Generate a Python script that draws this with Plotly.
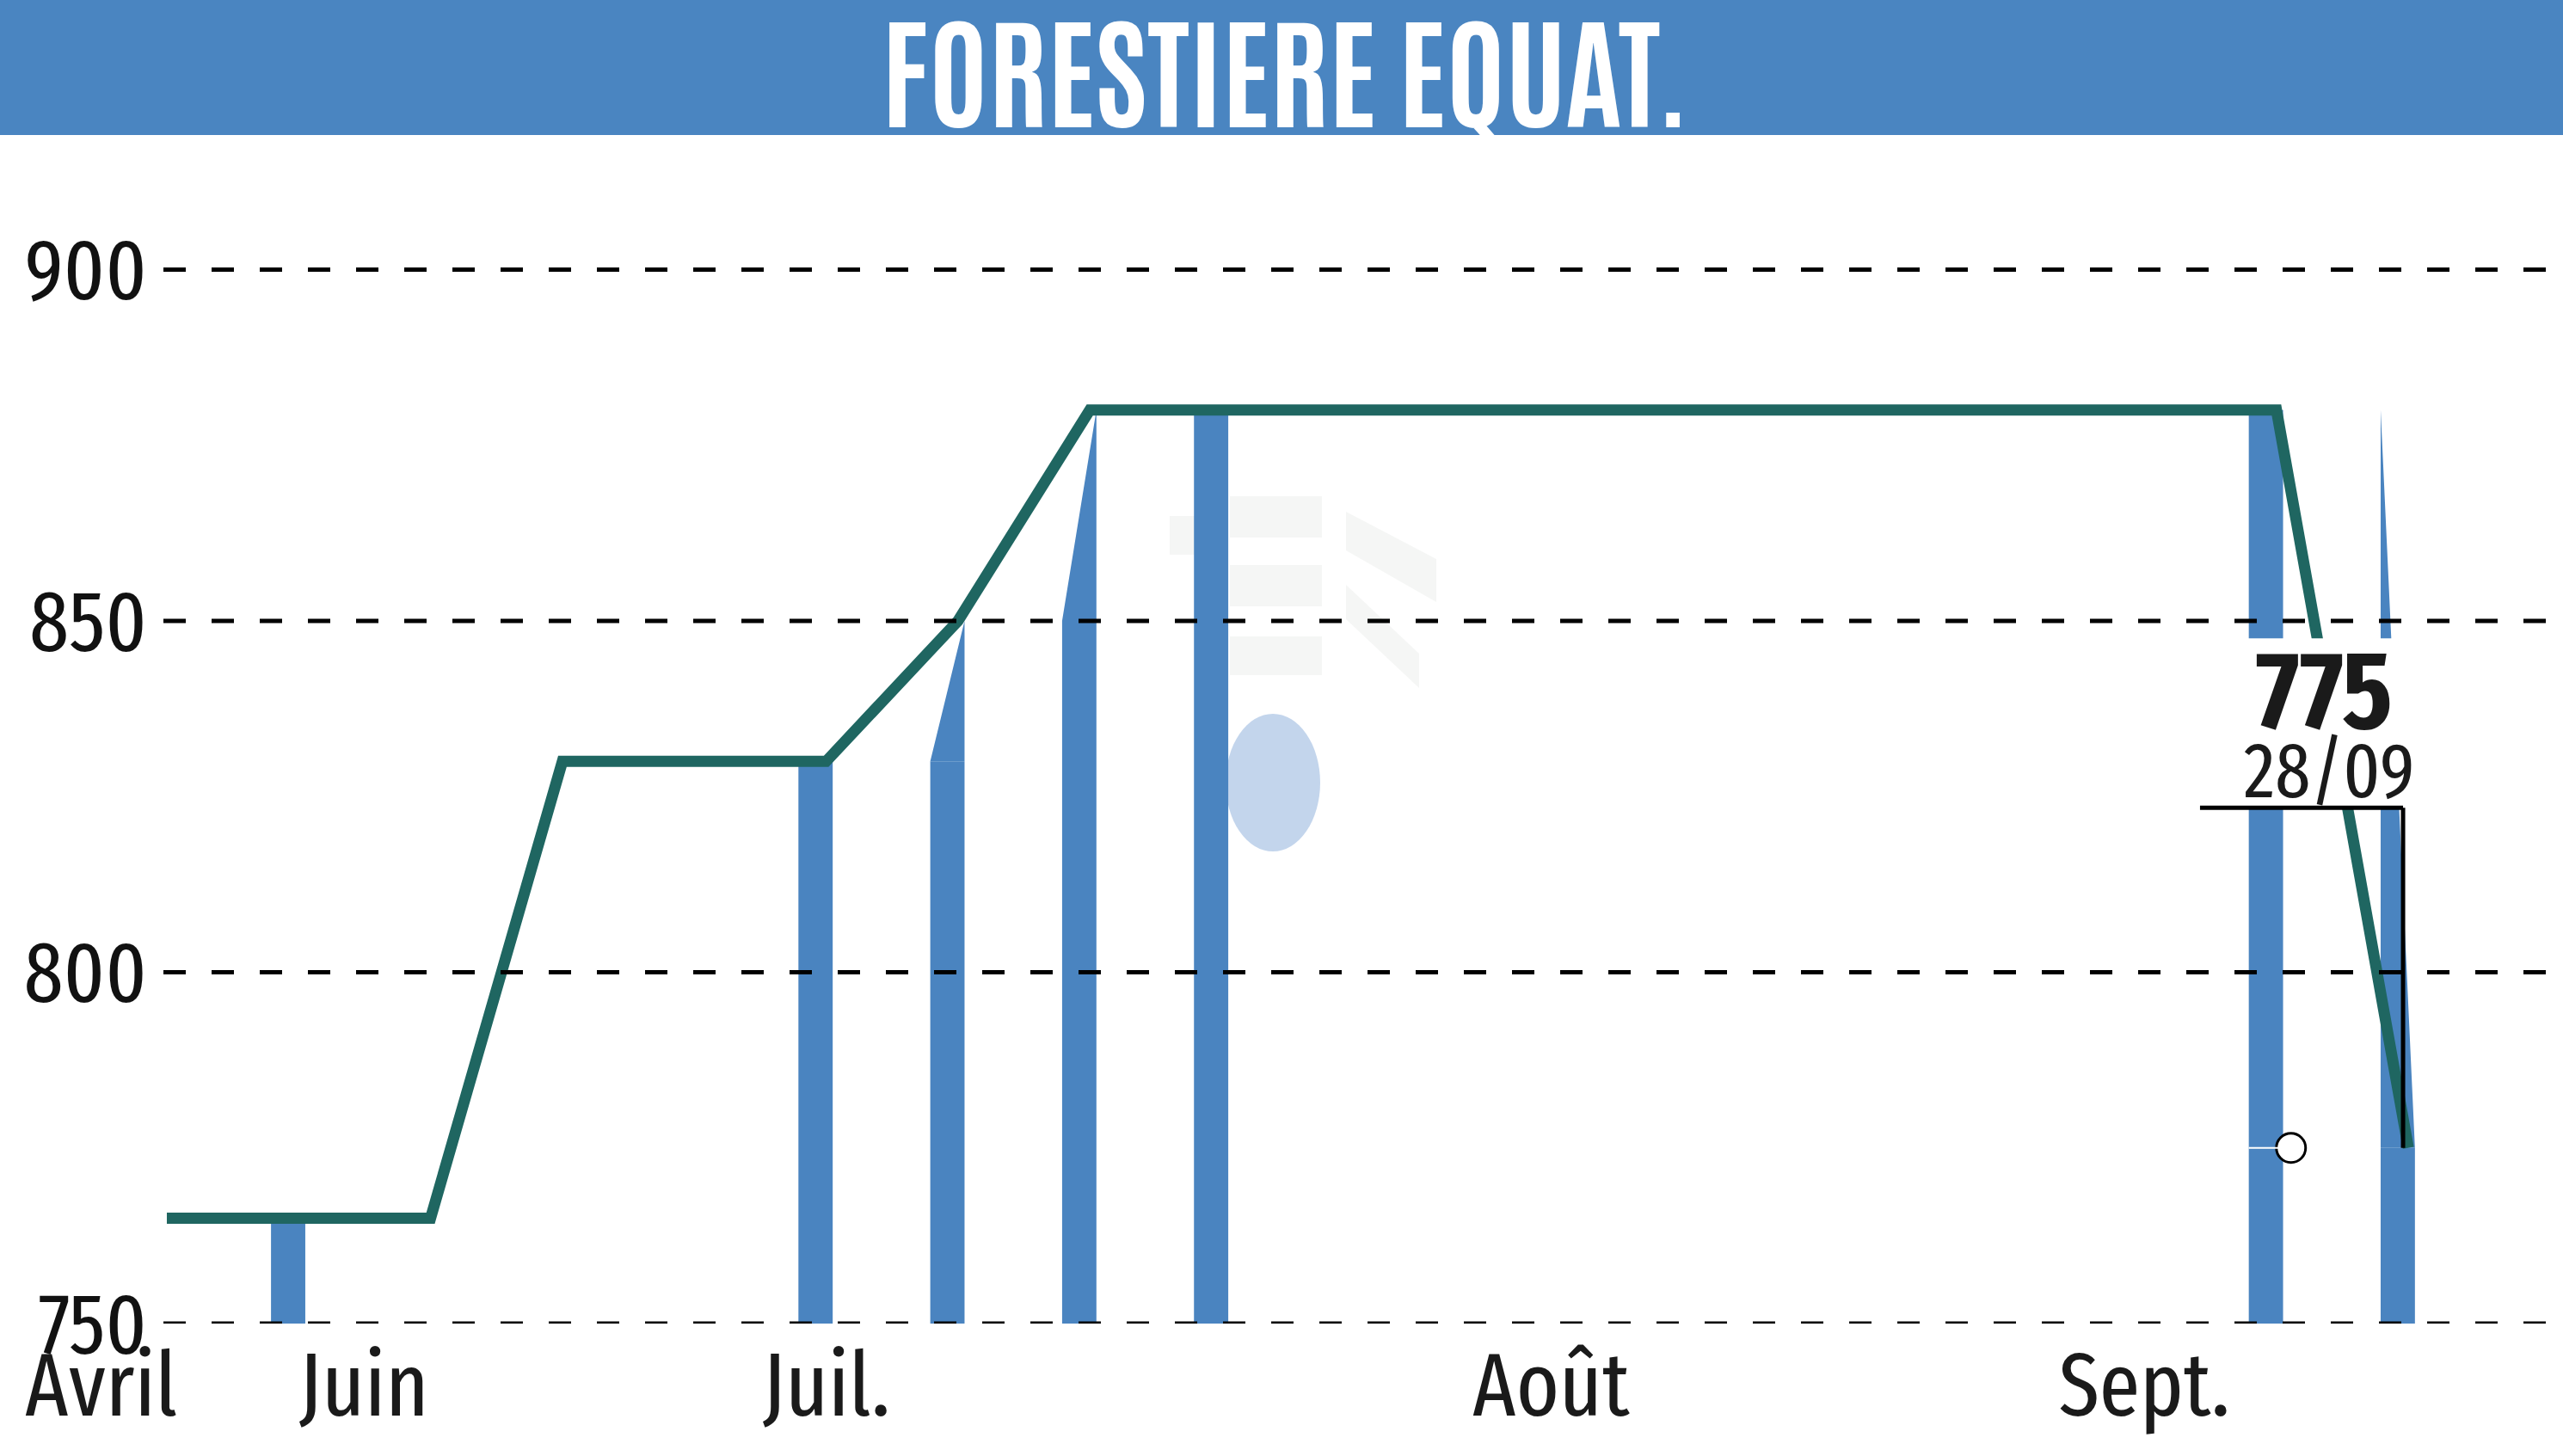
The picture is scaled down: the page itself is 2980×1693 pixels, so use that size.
import plotly.graph_objects as go

# ---------------- data ----------------
title_text = "FORESTIERE EQUAT."
sessions = list(range(18))
closes = [765, 765, 765, 830, 830, 830, 850, 880, 880, 880,
          880, 880, 880, 880, 880, 880, 880, 775]
bar_sessions = [1, 5, 6, 7, 8, 16, 17]
month_labels = ["Avril", "Juin", "Juil.", "Août", "Sept."]
month_pos = [-0.5, 1.5, 5.0, 10.5, 15.0]
y_ticks = [750, 800, 850, 900]
last_value_text = "775"
last_date_text = "28/09"

# ---------------- style ----------------
W, H = 2980, 1693
ML, MR, MT, MB = 190, 0, 199, 154
Y_RANGE = [750, 914]
X_RANGE = [-0.026, 18.173]
BLUE = "#4a85c1"
BAR_BLUE = "#4a84c0"
TEAL = "#1f6661"
FONT = "Fira Sans Extra Condensed, Asap Condensed, Barlow Condensed, Liberation Sans, sans-serif"
TITLE_FONT = "Antonio, Fira Sans Extra Condensed, Asap Condensed, sans-serif"
BAR_W = 0.26
BAR_OFF = -0.21

PH = H - MT - MB
PW = W - ML - MR


def px_x(x):
    return (x - ML) / PW


def px_y(y):
    return (H - MB - y) / PH


def data_to_paper_x(v):
    return (v - X_RANGE[0]) / (X_RANGE[1] - X_RANGE[0])


fig = go.Figure()

# volume bars (rectangular body up to the lower of previous/current close)
base = Y_RANGE[0]
body_tops = [min(closes[i - 1], closes[i]) for i in bar_sessions]
fig.add_trace(go.Bar(
    x=bar_sessions, y=[t - base for t in body_tops], base=base,
    width=BAR_W, offset=BAR_OFF,
    marker=dict(color=BAR_BLUE, line=dict(width=0)),
    hoverinfo="skip", showlegend=False,
))

# sloped tops of bars where the close changed during the session
wx, wy = [], []
for i in bar_sessions:
    p, c = closes[i - 1], closes[i]
    if p != c:
        lo = min(p, c)
        xl, xr = i + BAR_OFF, i + BAR_OFF + BAR_W
        wx += [xl, xl, xr, xr, xl, None]
        wy += [lo, p, c, lo, lo, None]
fig.add_trace(go.Scatter(
    x=wx, y=wy, mode="lines", fill="toself", fillcolor=BAR_BLUE,
    line=dict(width=0, color=BAR_BLUE), hoverinfo="skip", showlegend=False,
))

# price line
fig.add_trace(go.Scatter(
    x=sessions, y=closes, mode="lines",
    line=dict(color=TEAL, width=13), hoverinfo="skip", showlegend=False,
))

last_x = sessions[-1]
last_y = closes[-1]

# thin white line at last value across previous bar, and open circle marker
fig.add_shape(type="line", xref="x", yref="y",
              x0=last_x - 1 + BAR_OFF, x1=last_x - 0.89, y0=last_y, y1=last_y,
              line=dict(color="white", width=2), layer="above")
fig.add_trace(go.Scatter(
    x=[last_x - 0.89], y=[last_y], mode="markers",
    marker=dict(size=34, color="white", line=dict(color="black", width=3)),
    hoverinfo="skip", showlegend=False,
))

# white label box
fig.add_shape(type="rect", xref="x", yref="y",
              x0=last_x - 1.45, x1=last_x + 0.1, y0=823.4, y1=847.5,
              fillcolor="white", line=dict(width=0), layer="above")

# dashed gridlines (drawn over the bars)
for v in y_ticks:
    fig.add_shape(type="line", xref="paper", yref="y", x0=0, x1=1, y0=v, y1=v,
                  line=dict(color="black", width=5, dash="26px,30px"), layer="above")

# black bracket line of the last value label
fig.add_shape(type="line", xref="x", yref="y",
              x0=last_x - 1.58, x1=last_x - 0.04, y0=823.4, y1=823.4,
              line=dict(color="black", width=5), layer="above")
fig.add_shape(type="line", xref="x", yref="y",
              x0=last_x - 0.04, x1=last_x - 0.04, y0=823.4, y1=last_y,
              line=dict(color="black", width=5), layer="above")

# last value annotations
fig.add_annotation(x=last_x - 0.64, y=840.0, xref="x", yref="y",
                   text="<b>" + last_value_text + "</b>", showarrow=False,
                   font=dict(family=FONT, size=128, color="#1a1a1a"),
                   xanchor="center", yanchor="middle")
fig.add_annotation(x=last_x - 0.6, y=828.6, xref="x", yref="y",
                   text=last_date_text, showarrow=False,
                   font=dict(family=FONT, size=90, color="#1a1a1a"),
                   xanchor="center", yanchor="middle")

# month labels
for lab, pos in zip(month_labels, month_pos):
    fig.add_annotation(x=data_to_paper_x(pos), y=0, xref="paper", yref="paper", text=lab,
                       showarrow=False, xanchor="center", yanchor="top",
                       yshift=-8,
                       font=dict(family=FONT, size=104, color="#1a1a1a"))

# header band and title
fig.add_shape(type="rect", xref="paper", yref="paper",
              x0=px_x(0), x1=px_x(W), y0=px_y(157), y1=px_y(0),
              fillcolor=BLUE, line=dict(width=0), layer="below")
fig.add_annotation(x=px_x(1494), y=px_y(76), xref="paper", yref="paper",
                   text="<b>" + title_text + "</b>", showarrow=False,
                   xanchor="center", yanchor="middle",
                   font=dict(family=TITLE_FONT, size=142, color="white"))

# faint watermark
wm_light = "rgba(236,239,236,0.55)"
for (x0, y0, x1, y1) in [(1430, 577, 1537, 625), (1430, 657, 1537, 705),
                         (1430, 740, 1537, 785), (1360, 600, 1400, 645)]:
    fig.add_shape(type="rect", xref="paper", yref="paper",
                  x0=px_x(x0), x1=px_x(x1), y0=px_y(y1), y1=px_y(y0),
                  fillcolor=wm_light, line=dict(width=0), layer="below")
fig.add_shape(type="path", xref="paper", yref="paper",
              path="M {} {} L {} {} L {} {} L {} {} Z".format(
                  px_x(1565), px_y(595), px_x(1670), px_y(650),
                  px_x(1670), px_y(700), px_x(1565), px_y(640)),
              fillcolor=wm_light, line=dict(width=0), layer="below")
fig.add_shape(type="path", xref="paper", yref="paper",
              path="M {} {} L {} {} L {} {} L {} {} Z".format(
                  px_x(1565), px_y(680), px_x(1650), px_y(760),
                  px_x(1650), px_y(800), px_x(1565), px_y(720)),
              fillcolor=wm_light, line=dict(width=0), layer="below")
fig.add_shape(type="circle", xref="paper", yref="paper",
              x0=px_x(1425), x1=px_x(1535), y0=px_y(990), y1=px_y(830),
              fillcolor="rgba(185,206,233,0.85)", line=dict(width=0), layer="below")

fig.update_layout(
    width=W, height=H,
    margin=dict(l=ML, r=MR, t=MT, b=MB, pad=0),
    paper_bgcolor="white", plot_bgcolor="white",
    showlegend=False, barmode="overlay",
    xaxis=dict(range=X_RANGE, showgrid=False, zeroline=False,
               showticklabels=False, showline=False, ticks=""),
    yaxis=dict(range=Y_RANGE, tickvals=y_ticks, showgrid=False, zeroline=False,
               showline=False, ticks="", ticklabelstandoff=18,
               tickfont=dict(family=FONT, size=100, color="#111111")),
)

fig.write_html("out.html", config={"displayModeBar": False},
               post_script="document.body.style.margin='0';document.body.style.overflow='hidden';")
